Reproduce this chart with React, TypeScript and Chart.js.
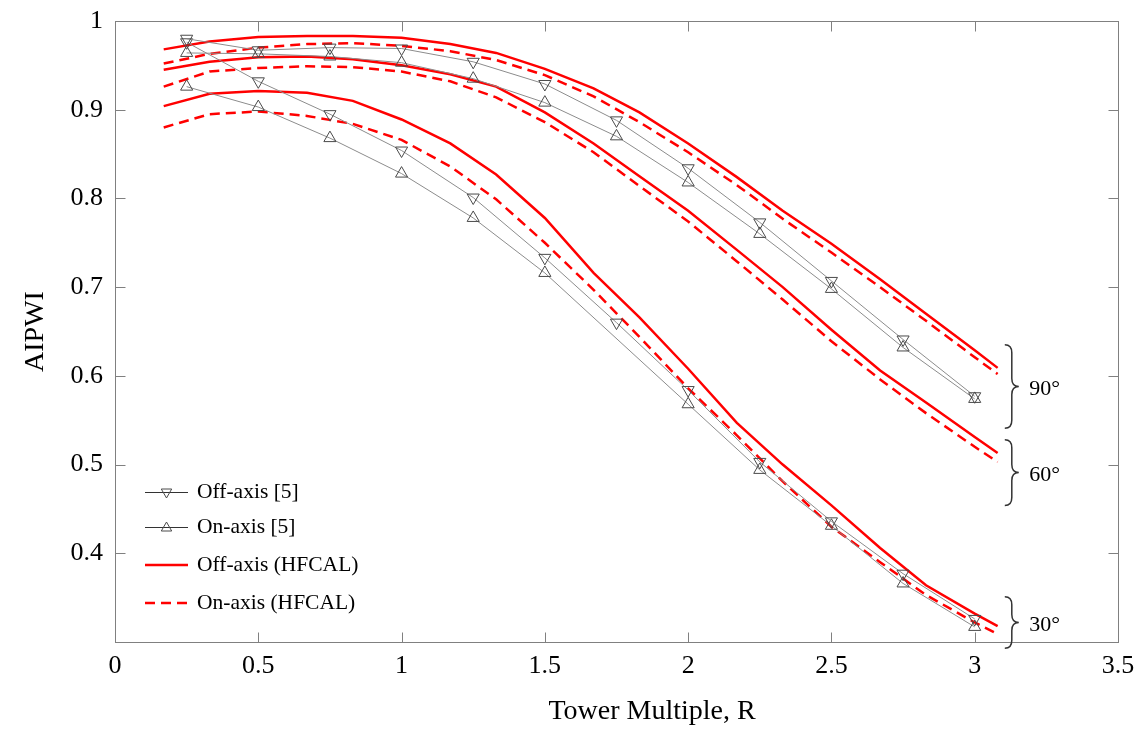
import React, { useEffect, useRef } from "react";
import { Chart, registerables } from "chart.js";

Chart.register(...registerables);

const FONT = '"Liberation Serif", "Times New Roman", serif';

// Experimental data (Ref. [5])
const EXP_R = [0.25, 0.5, 0.75, 1.0, 1.25, 1.5, 1.75, 2.0, 2.25, 2.5, 2.75, 3.0];
const EXP_OFF_90 = [0.980, 0.967, 0.970, 0.969, 0.954, 0.929, 0.888, 0.834, 0.773, 0.707, 0.641, 0.577];
const EXP_ON_90 = [0.964, 0.963, 0.960, 0.953, 0.935, 0.908, 0.870, 0.818, 0.760, 0.698, 0.632, 0.574];
const EXP_OFF_30 = [0.976, 0.932, 0.895, 0.854, 0.801, 0.733, 0.660, 0.584, 0.503, 0.436, 0.377, 0.326];
const EXP_ON_30 = [0.926, 0.903, 0.868, 0.828, 0.778, 0.716, null, 0.568, 0.494, 0.431, 0.366, 0.317];

// HFCAL model curves
const MODEL_R = [0.17, 0.33, 0.5, 0.67, 0.83, 1.0, 1.17, 1.33, 1.5, 1.67, 1.83, 2.0, 2.17, 2.33, 2.5, 2.67, 2.83, 3.0, 3.08];
const HF_OFF_90 = [0.968, 0.977, 0.982, 0.983, 0.983, 0.981, 0.974, 0.964, 0.946, 0.924, 0.897, 0.862, 0.824, 0.786, 0.749, 0.709, 0.670, 0.629, 0.609];
const HF_ON_90 = [0.952, 0.963, 0.970, 0.974, 0.975, 0.972, 0.966, 0.956, 0.939, 0.915, 0.886, 0.852, 0.815, 0.777, 0.739, 0.700, 0.662, 0.621, 0.602];
const HF_OFF_60 = [0.945, 0.954, 0.959, 0.960, 0.957, 0.950, 0.940, 0.926, 0.897, 0.862, 0.825, 0.786, 0.742, 0.700, 0.652, 0.606, 0.570, 0.531, 0.513];
const HF_ON_60 = [0.926, 0.943, 0.947, 0.949, 0.948, 0.943, 0.932, 0.914, 0.886, 0.852, 0.814, 0.774, 0.729, 0.686, 0.639, 0.596, 0.558, 0.520, 0.503];
const HF_OFF_30 = [0.904, 0.918, 0.921, 0.919, 0.910, 0.889, 0.862, 0.827, 0.778, 0.716, 0.666, 0.608, 0.547, 0.500, 0.454, 0.406, 0.364, 0.332, 0.318];
const HF_ON_30 = [0.880, 0.895, 0.898, 0.893, 0.884, 0.866, 0.836, 0.799, 0.750, 0.697, 0.644, 0.586, 0.533, 0.481, 0.430, 0.390, 0.353, 0.322, 0.309];

// Axis settings
const X_MIN = 0;
const X_MAX = 3.5;
const X_STEP = 0.5;
const Y_MIN = 0.3;
const Y_MAX = 1.0;
const Y_STEP = 0.1;

const X_TITLE = "Tower Multiple, R";
const Y_TITLE = "AIPWI";

const LEGEND_LABELS = ["Off-axis [5]", "On-axis [5]", "Off-axis (HFCAL)", "On-axis (HFCAL)"];

// Angle groups: label, brace top value, brace bottom value
const GROUP_LABELS = ["90°", "60°", "30°"];
const GROUP_TOP = [0.635, 0.528, 0.351];
const GROUP_BOTTOM = [0.541, 0.454, 0.293];

const RED = "#ff0000";
const GRAY_LINE = "#8c8c8c";
const MARK = "#4a4a4a";
const FRAME = "#808080";
const DASH = [10, 6];

const pts = (xs: number[], ys: (number | null)[]) => xs.map((x, i) => ({ x, y: ys[i] }));
const fmt = (v: number) => String(Math.round(v * 10) / 10);

function drawTri(ctx: CanvasRenderingContext2D, x: number, y: number, r: number, down: boolean) {
  ctx.beginPath();
  for (let k = 0; k < 3; k++) {
    const a = (down ? Math.PI : 0) + (k * 2 * Math.PI) / 3;
    const px = x + Math.sin(a) * r;
    const py = y - Math.cos(a) * r;
    if (k === 0) ctx.moveTo(px, py);
    else ctx.lineTo(px, py);
  }
  ctx.closePath();
  ctx.stroke();
}

const overlay = {
  id: "overlay",
  afterDraw(chart: any) {
    const { ctx, chartArea: a, scales } = chart;
    const xs = scales.x;
    const ys = scales.y;
    ctx.save();

    // frame and inward ticks
    ctx.strokeStyle = FRAME;
    ctx.lineWidth = 1;
    ctx.setLineDash([]);
    const L = Math.round(a.left) + 0.5;
    const R = Math.round(a.right) + 0.5;
    const T = Math.round(a.top) + 0.5;
    const B = Math.round(a.bottom) + 0.5;
    ctx.strokeRect(L, T, R - L, B - T);
    const TL = 10;
    ctx.beginPath();
    xs.ticks.forEach((t: any) => {
      const px = Math.round(xs.getPixelForValue(t.value)) + 0.5;
      ctx.moveTo(px, B);
      ctx.lineTo(px, B - TL);
      ctx.moveTo(px, T);
      ctx.lineTo(px, T + TL);
    });
    ys.ticks.forEach((t: any) => {
      const py = Math.round(ys.getPixelForValue(t.value)) + 0.5;
      ctx.moveTo(L, py);
      ctx.lineTo(L + TL, py);
      ctx.moveTo(R, py);
      ctx.lineTo(R - TL, py);
    });
    ctx.stroke();

    // axis titles
    ctx.fillStyle = "#000";
    ctx.font = `28px ${FONT}`;
    ctx.textAlign = "center";
    ctx.textBaseline = "middle";
    ctx.fillText(X_TITLE, 652, 712);
    ctx.save();
    ctx.translate(36, (a.top + a.bottom) / 2);
    ctx.rotate(-Math.PI / 2);
    ctx.fillText(Y_TITLE, 0, 0);
    ctx.restore();

    // legend
    const lx0 = 145;
    const lx1 = 188;
    const lys = [492, 527, 565, 603];
    ctx.font = `21.5px ${FONT}`;
    ctx.textAlign = "left";
    ctx.textBaseline = "middle";
    lys.forEach((y, i) => {
      ctx.save();
      if (i < 2) {
        ctx.strokeStyle = "#333";
        ctx.lineWidth = 1;
        ctx.beginPath();
        ctx.moveTo(lx0, y + 0.5);
        ctx.lineTo(lx1, y + 0.5);
        ctx.stroke();
        ctx.strokeStyle = MARK;
        drawTri(ctx, (lx0 + lx1) / 2, y + (i === 0 ? 0 : 1), 6, i === 0);
      } else {
        ctx.strokeStyle = RED;
        ctx.lineWidth = 2.5;
        if (i === 3) ctx.setLineDash(DASH);
        ctx.beginPath();
        ctx.moveTo(lx0, y);
        ctx.lineTo(lx1, y);
        ctx.stroke();
      }
      ctx.restore();
      ctx.fillStyle = "#000";
      ctx.fillText(LEGEND_LABELS[i], 197, y);
    });

    // braces with angle labels
    const bx = xs.getPixelForValue(3.105);
    const lblX = xs.getPixelForValue(3.19);
    ctx.strokeStyle = "#333";
    ctx.lineWidth = 1.5;
    ctx.font = `22px ${FONT}`;
    GROUP_LABELS.forEach((lab, i) => {
      const y0 = ys.getPixelForValue(GROUP_TOP[i]);
      const y1 = ys.getPixelForValue(GROUP_BOTTOM[i]);
      const ym = (y0 + y1) / 2;
      const w = 7;
      ctx.beginPath();
      ctx.moveTo(bx, y0);
      ctx.quadraticCurveTo(bx + w, y0, bx + w, y0 + 8);
      ctx.lineTo(bx + w, ym - 8);
      ctx.quadraticCurveTo(bx + w, ym, bx + 2 * w, ym);
      ctx.quadraticCurveTo(bx + w, ym, bx + w, ym + 8);
      ctx.lineTo(bx + w, y1 - 8);
      ctx.quadraticCurveTo(bx + w, y1, bx, y1);
      ctx.stroke();
      ctx.fillStyle = "#000";
      ctx.fillText(lab, lblX, ym + 3);
    });

    ctx.restore();
  },
};

export default function App() {
  const ref = useRef<HTMLCanvasElement>(null);

  useEffect(() => {
    const canvas = ref.current;
    if (!canvas) return;

    const expDs = (label: string, ys: (number | null)[], down: boolean) => ({
      label,
      data: pts(EXP_R, ys),
      borderColor: GRAY_LINE,
      borderWidth: 1,
      pointStyle: "triangle",
      pointRotation: down ? 180 : 0,
      pointRadius: 7,
      pointBorderColor: MARK,
      pointBackgroundColor: "rgba(0,0,0,0)",
      pointBorderWidth: 1,
      spanGaps: true,
      tension: 0,
      fill: false,
    });
    const hfDs = (label: string, ys: number[], dashed: boolean) => ({
      label,
      data: pts(MODEL_R, ys),
      borderColor: RED,
      borderWidth: 2.5,
      borderDash: dashed ? DASH : [],
      pointRadius: 0,
      tension: 0,
      fill: false,
    });

    const chart = new Chart(canvas, {
      type: "line",
      data: {
        datasets: [
          expDs("Off-axis [5] 90°", EXP_OFF_90, true),
          expDs("On-axis [5] 90°", EXP_ON_90, false),
          expDs("Off-axis [5] 30°", EXP_OFF_30, true),
          expDs("On-axis [5] 30°", EXP_ON_30, false),
          hfDs("Off-axis (HFCAL) 90°", HF_OFF_90, false),
          hfDs("On-axis (HFCAL) 90°", HF_ON_90, true),
          hfDs("Off-axis (HFCAL) 60°", HF_OFF_60, false),
          hfDs("On-axis (HFCAL) 60°", HF_ON_60, true),
          hfDs("Off-axis (HFCAL) 30°", HF_OFF_30, false),
          hfDs("On-axis (HFCAL) 30°", HF_ON_30, true),
        ] as any,
      },
      options: {
        animation: false,
        responsive: false,
        maintainAspectRatio: false,
        layout: { padding: { left: 0, right: 26, top: 21, bottom: 0 } },
        plugins: {
          legend: { display: false },
          tooltip: { enabled: false },
          title: { display: false },
        },
        scales: {
          x: {
            type: "linear",
            min: X_MIN,
            max: X_MAX,
            grid: { display: false, drawTicks: false },
            border: { display: false },
            ticks: {
              stepSize: X_STEP,
              color: "#000",
              padding: 9,
              font: { family: FONT, size: 26 },
              callback: (v: any) => fmt(Number(v)),
            },
            afterFit: (s: any) => {
              s.height = 89;
              s.paddingLeft = 0;
              s.paddingRight = 0;
            },
          },
          y: {
            type: "linear",
            min: Y_MIN,
            max: Y_MAX,
            grid: { display: false, drawTicks: false },
            border: { display: false },
            ticks: {
              stepSize: Y_STEP,
              color: "#000",
              padding: 12,
              font: { family: FONT, size: 26 },
              callback: (v: any) => (Number(v) < Y_MIN + 0.05 ? "" : fmt(Number(v))),
            },
            afterFit: (s: any) => {
              s.width = 115;
              s.paddingTop = 0;
              s.paddingBottom = 0;
            },
          },
        },
      } as any,
      plugins: [overlay],
    });

    return () => chart.destroy();
  }, []);

  return (
    <div style={{ position: "absolute", left: 0, top: 0, width: 1144, height: 731, background: "#fff" }}>
      <canvas ref={ref} width={1144} height={731} style={{ display: "block" }} />
    </div>
  );
}
